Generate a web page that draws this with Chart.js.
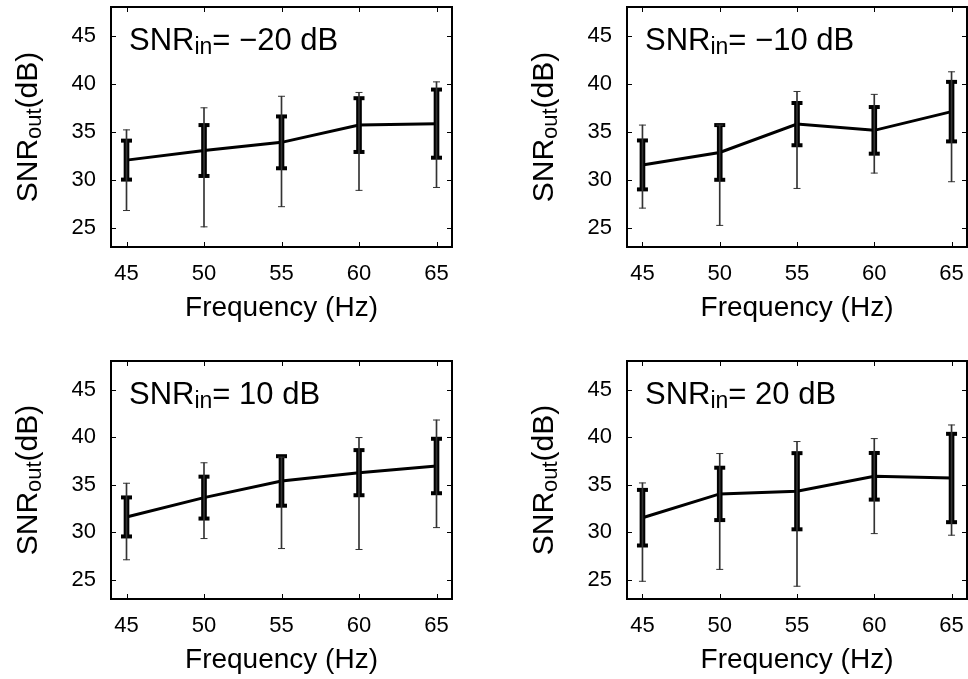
<!DOCTYPE html>
<html>
<head>
<meta charset="utf-8">
<script src="https://cdn.jsdelivr.net/npm/chart.js@4.4.1/dist/chart.umd.min.js"></script>
<style>
  body { margin: 0; background: #fff; }
  #wrap { position: relative; width: 968px; height: 679px; }
  canvas { position: absolute; }
</style>
</head>
<body>
<div id="wrap">
  <canvas id="p1" width="484" height="340" style="left:0;top:0"></canvas>
  <canvas id="p2" width="484" height="340" style="left:484px;top:0"></canvas>
  <canvas id="p3" width="484" height="339" style="left:0;top:340px"></canvas>
  <canvas id="p4" width="484" height="339" style="left:484px;top:340px"></canvas>
</div>
<script>
// Frequencies and axis ticks
const freqs = [45, 50, 55, 60, 65];
const xTicks = [45, 50, 55, 60, 65];
const yTicks = [25, 30, 35, 40, 45];

// SNRin = -20 dB
const meanN20 = [32.05, 33.05, 33.9, 35.7, 35.85];
const sdN20   = [2.03, 2.65, 2.7, 2.8, 3.55];
const minN20  = [26.8, 25.1, 27.2, 28.9, 29.2];
const maxN20  = [35.2, 37.5, 38.7, 39.1, 40.2];

// SNRin = -10 dB
const meanN10 = [31.55, 32.85, 35.8, 35.15, 37.1];
const sdN10   = [2.55, 2.85, 2.2, 2.43, 3.1];
const minN10  = [27.05, 25.25, 29.1, 30.7, 29.8];
const maxN10  = [35.7, 35.7, 39.2, 38.9, 41.25];

// SNRin = 10 dB
const meanP10 = [31.62, 33.65, 35.4, 36.27, 36.97];
const sdP10   = [2.05, 2.2, 2.6, 2.37, 2.86];
const minP10  = [27.12, 29.35, 28.3, 28.2, 30.5];
const maxP10  = [35.16, 37.31, 37.9, 39.96, 41.8];

// SNRin = 20 dB
const meanP20 = [31.54, 34.04, 34.32, 35.89, 35.71];
const sdP20   = [2.92, 2.75, 4.0, 2.45, 4.64];
const minP20  = [24.86, 26.11, 24.34, 29.87, 29.7];
const maxP20  = [35.19, 38.28, 39.54, 39.85, 41.28];

const FONT = '"Liberation Sans", Arial, sans-serif';

// text with a subscript part: main + sub + rest, returns total width
function subText(ctx, x, y, main, sub, rest, size, measureOnly) {
  let w = 0;
  ctx.font = size + 'px ' + FONT;
  if (!measureOnly) ctx.fillText(main, x, y);
  w += ctx.measureText(main).width;
  ctx.font = Math.round(size * 0.74) + 'px ' + FONT;
  if (!measureOnly) ctx.fillText(sub, x + w, y + size * 0.14);
  w += ctx.measureText(sub).width;
  ctx.font = size + 'px ' + FONT;
  if (!measureOnly) ctx.fillText(rest, x + w, y);
  w += ctx.measureText(rest).width;
  return w;
}

// box, inward ticks on all sides, titles
const framePlugin = {
  id: 'frame',
  afterDraw(chart, args, opts) {
    const { ctx, chartArea: a, scales: { x, y } } = chart;
    ctx.save();
    ctx.strokeStyle = '#000';
    ctx.lineWidth = 1;
    ctx.beginPath();
    x.ticks.forEach(t => {
      const px = Math.round(x.getPixelForValue(t.value)) + 0.5;
      ctx.moveTo(px, a.bottom); ctx.lineTo(px, a.bottom - 5);
      ctx.moveTo(px, a.top); ctx.lineTo(px, a.top + 5);
    });
    y.ticks.forEach(t => {
      const py = Math.round(y.getPixelForValue(t.value)) + 0.5;
      ctx.moveTo(a.left, py); ctx.lineTo(a.left + 5, py);
      ctx.moveTo(a.right, py); ctx.lineTo(a.right - 5, py);
    });
    ctx.stroke();
    ctx.lineWidth = 2;
    ctx.strokeRect(a.left, a.top, a.right - a.left, a.bottom - a.top);

    ctx.fillStyle = '#000';
    ctx.textBaseline = 'alphabetic';
    ctx.textAlign = 'left';
    subText(ctx, a.left + 18, a.top + 43, 'SNR', 'in', '= ' + opts.level + ' dB', 31);

    ctx.textAlign = 'center';
    ctx.font = '28px ' + FONT;
    ctx.fillText('Frequency (Hz)', (a.left + a.right) / 2, a.bottom + 69);

    ctx.textAlign = 'left';
    ctx.translate(a.left - 74, (a.top + a.bottom) / 2);
    ctx.rotate(-Math.PI / 2);
    const w = subText(ctx, 0, 0, 'SNR', 'out', '(dB)', 30, true);
    subText(ctx, -w / 2, 0, 'SNR', 'out', '(dB)', 30);
    ctx.restore();
  }
};

function makePanel(id, level, mean, sd, lo, hi, area) {
  const cv = document.getElementById(id);
  const W = cv.width, H = cv.height;
  const pts = v => freqs.map((f, i) => ({ x: f, y: v[i] }));
  const rng = (a, b) => freqs.map((f, i) => ({ x: f, y: [a[i], b[i]] }));
  const sdLo = mean.map((m, i) => m - sd[i]);
  const sdHi = mean.map((m, i) => m + sd[i]);

  new Chart(cv, {
    type: 'line',
    data: {
      datasets: [
        { type: 'bar', data: rng(lo, hi), backgroundColor: '#333', barThickness: 1, grouped: false },
        { type: 'scatter', data: pts(lo).concat(pts(hi)), pointStyle: 'line', pointRadius: 3.5,
          borderColor: '#333', borderWidth: 1, showLine: false },
        { type: 'bar', data: rng(sdLo, sdHi), backgroundColor: '#000', barThickness: 5, grouped: false },
        { type: 'scatter', data: pts(sdLo).concat(pts(sdHi)), pointStyle: 'line', pointRadius: 5.5,
          borderColor: '#000', borderWidth: 4, showLine: false },
        { data: pts(mean), borderColor: '#000', borderWidth: 3, pointRadius: 0, tension: 0, fill: false }
      ]
    },
    options: {
      responsive: false,
      animation: false,
      events: [],
      layout: { autoPadding: false, padding: { top: area.top, right: W - area.right, left: 0, bottom: 0 } },
      plugins: { legend: { display: false }, tooltip: { enabled: false }, frame: { level } },
      scales: {
        x: {
          type: 'linear', min: 44, max: 66, offset: false,
          afterBuildTicks: s => { s.ticks = xTicks.map(v => ({ value: v })); },
          afterFit: s => { s.height = H - area.bottom; s.paddingLeft = 0; s.paddingRight = 0; },
          grid: { display: false, drawTicks: false, offset: false },
          border: { display: false },
          ticks: { padding: 14, color: '#000', font: { family: FONT, size: 22 }, maxRotation: 0, autoSkip: false }
        },
        y: {
          type: 'linear', min: 23, max: 48, beginAtZero: false,
          afterBuildTicks: s => { s.ticks = yTicks.map(v => ({ value: v })); },
          afterFit: s => { s.width = area.left; s.paddingTop = 0; s.paddingBottom = 0; },
          grid: { display: false, drawTicks: false },
          border: { display: false },
          ticks: { padding: 15, color: '#000', font: { family: FONT, size: 22 } }
        }
      }
    },
    plugins: [framePlugin]
  });
}

makePanel('p1', '\u221220', meanN20, sdN20, minN20, maxN20, { left: 111, top: 7, right: 452, bottom: 247 });
makePanel('p2', '\u221210', meanN10, sdN10, minN10, maxN10, { left: 143, top: 7, right: 483, bottom: 247 });
makePanel('p3', '10', meanP10, sdP10, minP10, maxP10, { left: 111, top: 21, right: 452, bottom: 259 });
makePanel('p4', '20', meanP20, sdP20, minP20, maxP20, { left: 143, top: 21, right: 483, bottom: 259 });
</script>
</body>
</html>
